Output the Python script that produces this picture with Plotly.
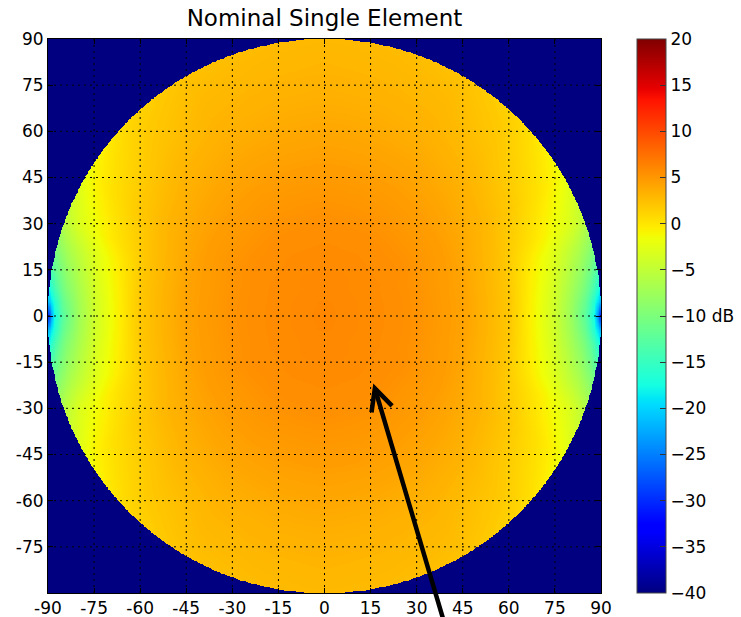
import numpy as np
import plotly.graph_objects as go

# ---------------- data ----------------
# off-boresight angle (deg) and azimuth from +x axis (deg); pattern is mirror-symmetric in x and y
theta_deg = [0, 15, 30, 45, 60, 70, 75, 80, 85, 88, 90]
phi_deg = [0, 3, 6, 10, 15, 20, 30, 45, 60, 75, 90]

gain_phi00 = [6.0, 5.8, 5.3, 4.3, 2.0, -1.8, -4.2, -7.5, -12.5, -18.0, -32.0]
gain_phi03 = [6.0, 5.8, 5.3, 4.3, 2.0, -1.7, -4.0, -7.2, -11.5, -16.5, -22.0]
gain_phi06 = [6.0, 5.8, 5.3, 4.3, 2.05, -1.5, -3.6, -6.5, -10.0, -13.5, -17.0]
gain_phi10 = [6.0, 5.8, 5.3, 4.3, 2.1, -1.1, -2.9, -5.4, -8.3, -10.8, -13.0]
gain_phi15 = [6.0, 5.8, 5.3, 4.35, 2.2, -0.5, -2.0, -3.8, -5.9, -7.6, -9.0]
gain_phi20 = [6.0, 5.8, 5.3, 4.4, 2.4, 0.5, -0.5, -1.8, -3.2, -4.5, -5.5]
gain_phi30 = [6.0, 5.8, 5.4, 4.5, 3.0, 1.8, 1.0, 0.3, -0.6, -1.3, -2.0]
gain_phi45 = [6.0, 5.8, 5.4, 4.6, 3.5, 2.7, 2.3, 1.9, 1.5, 1.2, 1.0]
gain_phi60 = [6.0, 5.85, 5.45, 4.7, 3.8, 3.2, 3.0, 2.8, 2.6, 2.4, 2.3]
gain_phi75 = [6.0, 5.85, 5.45, 4.75, 3.9, 3.4, 3.2, 3.0, 2.85, 2.75, 2.7]
gain_phi90 = [6.0, 5.85, 5.5, 4.8, 4.0, 3.5, 3.3, 3.1, 3.0, 2.9, 2.8]
gain_rows = [gain_phi00, gain_phi03, gain_phi06, gain_phi10, gain_phi15, gain_phi20,
             gain_phi30, gain_phi45, gain_phi60, gain_phi75, gain_phi90]

floor_db = -40.0
tick_values = [-90, -75, -60, -45, -30, -15, 0, 15, 30, 45, 60, 75, 90]
x_tick_labels = ["-90", "-75", "-60", "-45", "-30", "-15", "0", "15", "30", "45", "60", "75", "90"]
y_tick_values = tick_values[1:]
y_tick_labels = x_tick_labels[1:]
cbar_values = [-40, -35, -30, -25, -20, -15, -10, -5, 0, 5, 10, 15, 20]
cbar_labels = ["\u221240", "\u221235", "\u221230", "\u221225", "\u221220", "\u221215",
               "\u221210 dB", "\u22125", "0", "5", "10", "15", "20"]

# ---------------- build field on a fine grid ----------------
grid = np.arange(-90, 90.001, 0.25)
X, Y = np.meshgrid(grid, grid)
R = np.hypot(X, Y).ravel()
PHI = np.degrees(np.arctan2(np.abs(Y), np.abs(X))).ravel()
th = np.array(theta_deg, float)
ph = np.array(phi_deg, float)
rows = np.array([np.interp(R, th, np.array(r, float)) for r in gain_rows])
idx = np.clip(np.searchsorted(ph, PHI, side="right") - 1, 0, len(ph) - 2)
w = (PHI - ph[idx]) / (ph[idx + 1] - ph[idx])
n = np.arange(R.size)
Z = rows[idx, n] * (1 - w) + rows[idx + 1, n] * w
Z[R > 90] = floor_db
Z = np.round(Z.reshape(X.shape), 1)

# matplotlib "jet"
red = [(0, 0), (0.35, 0), (0.66, 1), (0.89, 1), (1, 0.5)]
green = [(0, 0), (0.125, 0), (0.375, 1), (0.64, 1), (0.91, 0), (1, 0)]
blue = [(0, 0.5), (0.11, 1), (0.34, 1), (0.65, 0), (1, 0)]
stops = sorted(set([p for p, _ in red + green + blue]))
def ch(seg, t):
    return np.interp(t, [p for p, _ in seg], [v for _, v in seg])
jet = [[t, "rgb(%d,%d,%d)" % (round(255 * ch(red, t)), round(255 * ch(green, t)), round(255 * ch(blue, t)))]
       for t in stops]

FONT = "DejaVu Sans"

fig = go.Figure()
fig.add_trace(go.Heatmap(
    x=grid, y=grid, z=Z, zmin=-40, zmax=20, colorscale=jet, zsmooth=False,
    hoverinfo="skip",
    colorbar=dict(
        tickvals=cbar_values, ticktext=cbar_labels, ticks="inside", ticklen=6,
        tickcolor="#333", tickwidth=1, outlinewidth=1, outlinecolor="#444",
        thickness=29, thicknessmode="pixels", len=1, lenmode="fraction",
        x=1.065, xanchor="left", xpad=0, y=0.5, yanchor="middle", ypad=0,
        tickfont=dict(family=FONT, size=17, color="black"),
    ),
))

shapes = []
for v in tick_values[1:-1]:
    shapes.append(dict(type="line", xref="x", yref="y", x0=v, x1=v, y0=-90, y1=90,
                       line=dict(color="black", width=1, dash="2px,4px"), layer="above"))
    shapes.append(dict(type="line", xref="x", yref="y", y0=v, y1=v, x0=-90, x1=90,
                       line=dict(color="black", width=1, dash="2px,4px"), layer="above"))
# arrow head
shapes.append(dict(type="path", xref="x", yref="y", path="M 15.3,-31.3 L 16.4,-23.5 L 22.0,-29.2",
                   line=dict(color="black", width=4.5), layer="above"))

fig.update_layout(
    width=741, height=617,
    margin=dict(l=48, r=140, t=39, b=24, autoexpand=False),
    paper_bgcolor="white", plot_bgcolor="white",
    font=dict(family=FONT, size=17, color="black"),
    title=dict(text="Nominal Single Element", x=0.5, xref="paper", xanchor="center",
               y=1 - 18 / 617, yref="container", yanchor="middle",
               font=dict(family=FONT, size=23, color="black")),
    shapes=shapes,
    annotations=[dict(x=16.4, y=-23.5, ax=39.2, ay=-100.4, xref="x", yref="y", axref="x", ayref="y",
                      text="", showarrow=True, arrowhead=0, arrowwidth=4.5, arrowcolor="black",
                      standoff=0, startstandoff=0)],
)
axis_common = dict(range=[-90, 90], showgrid=False, zeroline=False, showline=True, linecolor="black",
                   linewidth=1, mirror="ticks", ticks="inside", ticklen=5, tickcolor="black",
                   automargin=False,
                   tickfont=dict(family=FONT, size=17, color="black"), layer="above traces")
fig.update_xaxes(tickvals=tick_values, ticktext=x_tick_labels, **axis_common)
fig.update_yaxes(tickvals=y_tick_values, ticktext=y_tick_labels, **axis_common)

fig.write_html("out.html")
